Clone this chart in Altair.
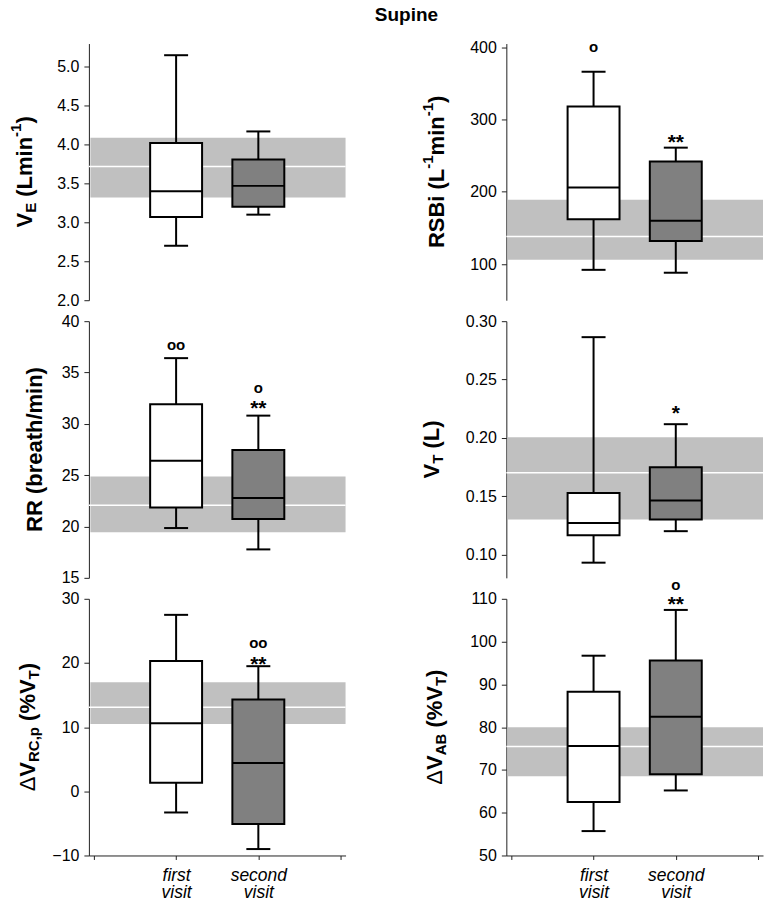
import altair as alt
import pandas as pd

GROUPS = ["first visit", "second visit"]
FILLS = ["#ffffff", "#808080"]

# stats per group: [min whisker, q1, median, q3, max whisker]
VE_FIRST = [2.70, 3.07, 3.40, 4.02, 5.15]
VE_SECOND = [3.10, 3.20, 3.47, 3.81, 4.17]
VE_REF = [3.32, 3.72, 4.09]          # reference band: low, median, high

RSBI_FIRST = [92, 162, 206, 318, 366]
RSBI_SECOND = [88, 132, 160, 242, 261]
RSBI_REF = [106, 138, 189]

RR_FIRST = [19.85, 21.86, 26.4, 31.9, 36.4]
RR_SECOND = [17.77, 20.72, 22.77, 27.44, 30.8]
RR_REF = [19.45, 22.08, 24.88]

VT_FIRST = [0.093, 0.1165, 0.127, 0.1527, 0.2863]
VT_SECOND = [0.120, 0.130, 0.1463, 0.1747, 0.2117]
VT_REF = [0.130, 0.170, 0.2006]

RC_FIRST = [-3.3, 1.35, 10.6, 20.3, 27.5]
RC_SECOND = [-9.0, -5.1, 4.4, 14.3, 19.5]
RC_REF = [10.5, 13.1, 17.0]

AB_FIRST = [55.7, 62.5, 75.6, 88.3, 96.7]
AB_SECOND = [65.2, 69.0, 82.4, 95.6, 107.4]
AB_REF = [68.5, 75.5, 80.0]

# significance marks: (group, symbol, value)
RSBI_MARKS = [("first visit", "o", 399), ("second visit", "**", 276)]
RR_MARKS = [("first visit", "oo", 37.6), ("second visit", "o", 33.4), ("second visit", "**", 32.0)]
VT_MARKS = [("second visit", "*", 0.2252)]
RC_MARKS = [("second visit", "oo", 22.95), ("second visit", "**", 20.6)]
AB_MARKS = [("second visit", "o", 113.0), ("second visit", "**", 110.0)]
VE_MARKS = []

VE_TICKS = [2.0, 2.5, 3.0, 3.5, 4.0, 4.5, 5.0]
RSBI_TICKS = [100, 200, 300, 400]
RR_TICKS = [15, 20, 25, 30, 35, 40]
VT_TICKS = [0.10, 0.15, 0.20, 0.25, 0.30]
RC_TICKS = [-10, 0, 10, 20, 30]
AB_TICKS = [50, 60, 70, 80, 90, 100, 110]

TITLE = "Supine"

FONT = "Liberation Sans"
W = 257
H = 257
BOX_W = 52
CAP_W = 24
MAIN_FS = 22
SMALL_FS = 15

BOLD_W = {"V": .667, "E": .667, "T": .611, "A": .722, "B": .722, "R": .722, "C": .722,
          "L": .611, "S": .667, " ": .278, "(": .333, ")": .333, "m": .889,
          "i": .278, "n": .611, "b": .611, "r": .389, "e": .556, "a": .556, "t": .333,
          "h": .611, "/": .278, "%": .889, "p": .611, ",": .278, "-": .333, "1": .556,
          "Δ": .668}

POS = {g: i + 1 for i, g in enumerate(GROUPS)}   # category slots on a 0..n+1 axis
XDOM = [0, len(GROUPS) + 1]
LABEL_EXPR = " : ".join(
    f"datum.value == {POS[g]} ? {g.split(' ')!r}" for g in GROUPS) + " : ''"


def piece_width(text, kind):
    fs = MAIN_FS if kind in ("main", "delta") else SMALL_FS
    return sum(BOLD_W.get(ch, .6) for ch in text) * fs


def title_layers(pieces, off):
    total = sum(piece_width(t, k) for t, k in pieces)
    y0 = H / 2 + total / 2
    layers = []
    c = 0.0
    for text, kind in pieces:
        fs = MAIN_FS if kind in ("main", "delta") else SMALL_FS
        shift = {"main": 0, "delta": 0, "sub": 4, "sup": -11}[kind]
        lead = len(text) - len(text.lstrip(" "))
        c += lead * BOLD_W[" "] * fs
        body = text.lstrip(" ")
        layers.append(
            alt.Chart(pd.DataFrame({"t": [body]})).mark_text(
                angle=270, align="left", baseline="alphabetic", font=FONT,
                fontSize=fs, fontWeight="normal" if kind == "delta" else "bold",
                color="black", text=body,
            ).encode(x=alt.value(-off + shift), y=alt.value(y0 - c))
        )
        c += piece_width(body, kind)
    return layers


def panel(first, second, ref, marks, dom, ticks, fmt, pieces, off, bottom, extra=None):
    box = pd.DataFrame({
        "group": GROUPS,
        "lo": [first[0], second[0]],
        "q1": [first[1], second[1]],
        "med": [first[2], second[2]],
        "q3": [first[3], second[3]],
        "hi": [first[4], second[4]],
        "fill": FILLS,
    })
    box["pos"] = box["group"].map(POS)
    band = pd.DataFrame({"lo": [ref[0]], "mid": [ref[1]], "hi": [ref[2]]})

    if bottom:
        xaxis = alt.Axis(title=None, values=list(range(XDOM[0], XDOM[1] + 1)), labelExpr=LABEL_EXPR,
                         labelAngle=0, labelFontStyle="italic", labelFontSize=17.5,
                         labelFont=FONT, labelColor="black", labelLineHeight=17.5,
                         tickSize=4, tickColor="#222", domainColor="#222",
                         labelPadding=7, grid=False, labelFlush=False, labelOverlap=False)
    else:
        xaxis = None
    x = alt.X("pos:Q", scale=alt.Scale(domain=XDOM, nice=False, zero=False), axis=xaxis)
    yscale = alt.Scale(domain=dom, nice=False, zero=False)
    yaxis = alt.Axis(title=None, values=ticks, format=fmt, grid=False, tickSize=5,
                     tickColor="#222", domainColor="#222", labelFontSize=16, labelFont=FONT,
                     labelColor="black", labelPadding=5)

    base = alt.Chart(box)
    band_rect = alt.Chart(band).mark_rect(color="#c0c0c0").encode(
        x=alt.value(1.5), x2=alt.value(W),
        y=alt.Y("lo:Q", scale=yscale, axis=yaxis), y2="hi:Q")
    band_mid = alt.Chart(band).mark_rule(color="white", strokeWidth=1.5).encode(y=alt.Y("mid:Q"))
    wh_hi = base.mark_rule(color="black", strokeWidth=2).encode(x=x, y="q3:Q", y2="hi:Q")
    wh_lo = base.mark_rule(color="black", strokeWidth=2).encode(x=x, y="lo:Q", y2="q1:Q")
    cap_hi = base.mark_tick(color="black", size=CAP_W, thickness=2, opacity=1,
                            orient="horizontal").encode(x=x, y="hi:Q")
    cap_lo = base.mark_tick(color="black", size=CAP_W, thickness=2, opacity=1,
                            orient="horizontal").encode(x=x, y="lo:Q")
    boxes = base.mark_bar(size=BOX_W, stroke="black", strokeWidth=2, orient="vertical").encode(
        x=x, y="q1:Q", y2="q3:Q", fill=alt.Fill("fill:N", scale=None))
    meds = base.mark_tick(color="black", size=BOX_W, thickness=2, opacity=1,
                          orient="horizontal").encode(x=x, y="med:Q")

    layers = [band_rect, band_mid, wh_hi, wh_lo, cap_hi, cap_lo, boxes, meds]
    if marks:
        ann = pd.DataFrame(marks, columns=["group", "sym", "v"])
        ann["pos"] = ann["group"].map(POS)
        annc = alt.Chart(ann)
        layers.append(annc.transform_filter("datum.sym[0] == 'o'").mark_text(
            font=FONT, fontSize=15, fontWeight="bold", baseline="alphabetic", dy=4,
            color="black").encode(x=x, y="v:Q", text="sym:N"))
        layers.append(annc.transform_filter("datum.sym[0] == '*'").mark_text(
            font=FONT, fontSize=21, fontWeight="bold", baseline="alphabetic", dy=12,
            color="black").encode(x=x, y="v:Q", text="sym:N"))
    layers += title_layers(pieces, off)
    if extra is not None:
        layers.append(extra)
    return alt.layer(*layers).properties(width=W, height=H)


title_mark = alt.Chart(pd.DataFrame({"t": [TITLE]})).mark_text(
    font=FONT, fontSize=19, fontWeight="bold", align="center", baseline="alphabetic",
    color="black", text=TITLE,
).encode(x=alt.value(318), y=alt.value(-22.3))

p1 = panel(VE_FIRST, VE_SECOND, VE_REF, VE_MARKS, [2.0, 5.3], VE_TICKS, ".1f",
           [("V", "main"), ("E", "sub"), (" (Lmin", "main"), ("-1", "sup"), (")", "main")], 57, False,
           extra=title_mark)
p2 = panel(RSBI_FIRST, RSBI_SECOND, RSBI_REF, RSBI_MARKS, [50, 405], RSBI_TICKS, "d",
           [("RSBi (L", "main"), ("-1", "sup"), ("min", "main"), ("-1", "sup"), (")", "main")], 62, False)
p3 = panel(RR_FIRST, RR_SECOND, RR_REF, RR_MARKS, [15, 40], RR_TICKS, "d",
           [("RR (breath/min)", "main")], 47, False)
p4 = panel(VT_FIRST, VT_SECOND, VT_REF, VT_MARKS, [0.08, 0.30], VT_TICKS, ".2f",
           [("V", "main"), ("T", "sub"), (" (L)", "main")], 67, False)
p5 = panel(RC_FIRST, RC_SECOND, RC_REF, RC_MARKS, [-10, 30], RC_TICKS, "d",
           [("Δ", "delta"), ("V", "main"), ("RC,p", "sub"), (" (%V", "main"), ("T", "sub"), (")", "main")], 54, True)
p6 = panel(AB_FIRST, AB_SECOND, AB_REF, AB_MARKS, [50, 110], AB_TICKS, "d",
           [("Δ", "delta"), ("V", "main"), ("AB", "sub"), (" (%V", "main"), ("T", "sub"), (")", "main")], 64, True)

chart = alt.concat(p1, p2, p3, p4, p5, p6, columns=2,
                   spacing={"row": 21, "column": 161}, bounds="flush").properties(
    padding={"left": 0, "top": -3, "right": 0, "bottom": 0},
).configure_view(stroke=None)

chart.save("out.html", embed_options={"renderer": "svg", "actions": False})
